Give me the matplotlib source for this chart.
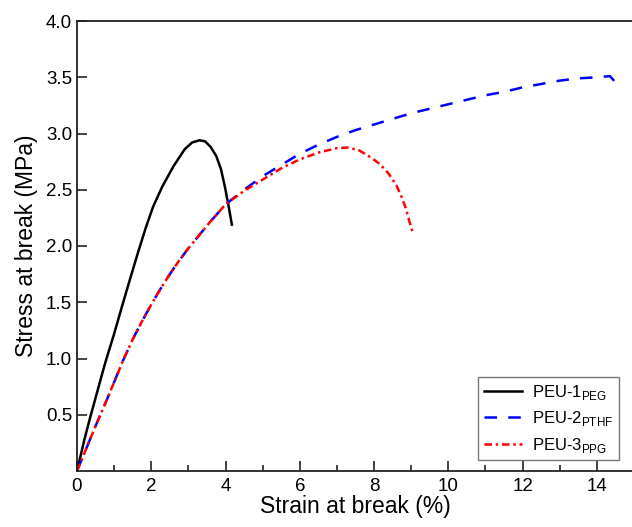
import numpy as np
import matplotlib
matplotlib.use("Agg")
import matplotlib.pyplot as plt
from matplotlib.ticker import MultipleLocator, FormatStrFormatter

plt.rcParams['font.family'] = ['Liberation Sans', 'DejaVu Sans']
plt.rcParams['mathtext.fontset'] = 'custom'
plt.rcParams['mathtext.rm'] = 'Liberation Sans'

# Data
peu1_x = [0, 0.2, 0.35, 0.55, 0.75, 1.0, 1.2, 1.45, 1.65, 1.85, 2.05, 2.3, 2.6, 2.9,
          3.1, 3.3, 3.45, 3.6, 3.75, 3.88, 3.98, 4.08, 4.17]
peu1_y = [0, 0.28, 0.47, 0.71, 0.95, 1.22, 1.45, 1.73, 1.95, 2.16, 2.35, 2.53, 2.71, 2.86,
          2.92, 2.94, 2.93, 2.88, 2.8, 2.68, 2.53, 2.36, 2.19]

peu2_x = [0, 0.25, 0.5, 0.8, 1.0, 1.25, 1.5, 1.75, 2.0, 2.25, 2.5, 2.75, 3.0, 3.3, 3.6,
          4.0, 4.5, 5.0, 5.5, 6.0, 6.5, 7.0, 7.5, 8.0, 8.5, 9.0, 9.5, 10.0, 10.5, 11.0,
          11.5, 12.0, 12.5, 13.0, 13.5, 14.0, 14.35, 14.6]
peu2_y = [0, 0.2, 0.4, 0.63, 0.79, 0.99, 1.17, 1.33, 1.48, 1.62, 1.75, 1.87, 1.98, 2.1, 2.22,
          2.37, 2.5, 2.62, 2.72, 2.82, 2.9, 2.97, 3.03, 3.08, 3.13, 3.18, 3.22, 3.26, 3.3, 3.34,
          3.37, 3.41, 3.44, 3.47, 3.49, 3.5, 3.51, 3.42]

peu3_x = [0, 0.25, 0.5, 0.8, 1.0, 1.25, 1.5, 1.75, 2.0, 2.25, 2.5, 2.75, 3.0, 3.3, 3.6,
          4.0, 4.5, 5.0, 5.5, 6.0, 6.5, 7.0, 7.3, 7.6, 7.9, 8.15, 8.4, 8.6, 8.75, 8.85,
          8.95, 9.05]
peu3_y = [0, 0.2, 0.4, 0.63, 0.79, 0.99, 1.17, 1.33, 1.48, 1.62, 1.75, 1.87, 1.98, 2.1, 2.22,
          2.37, 2.49, 2.59, 2.69, 2.77, 2.83, 2.87, 2.875, 2.85, 2.79, 2.73, 2.64, 2.54, 2.43,
          2.34, 2.22, 2.11]

labels = [r'PEU-1$_{\mathregular{PEG}}$', r'PEU-2$_{\mathregular{PTHF}}$', r'PEU-3$_{\mathregular{PPG}}$']

fig = plt.figure(figsize=(6.32, 5.27), dpi=100)
ax = fig.add_axes([77 / 632, 56 / 527, 557 / 632, 450 / 527])

ax.plot(peu1_x, peu1_y, color='black', lw=1.8, label=labels[0])
ax.plot(peu2_x, peu2_y, color='blue', lw=1.8, linestyle=(0, (5, 4.5)), label=labels[1])
ax.plot(peu3_x, peu3_y, color='red', lw=1.8, linestyle=(0, (3, 1.5, 1, 1.5)), label=labels[2])

ax.set_xlim(0, 15)
ax.set_ylim(0, 4.0)
ax.xaxis.set_major_locator(MultipleLocator(2))
ax.xaxis.set_minor_locator(MultipleLocator(1))
ax.set_yticks(np.arange(0.5, 4.01, 0.5))
ax.yaxis.set_major_formatter(FormatStrFormatter('%.1f'))
ax.tick_params(which='both', direction='in', labelsize=13.5, width=1.2, color='#222222')
ax.tick_params(which='major', length=7)
ax.tick_params(which='minor', length=4)
ax.tick_params(axis='x', pad=5)
for s in ax.spines.values():
    s.set_linewidth(1.3)
    s.set_color('#222222')

ax.set_xlabel('Strain at break (%)', fontsize=16.5, labelpad=0)
ax.set_ylabel('Stress at break (MPa)', fontsize=16.5, labelpad=6)

leg = ax.legend(loc='lower right', bbox_to_anchor=(0.988, 0.005), fontsize=12,
                fancybox=False, edgecolor='#555555', handlelength=2.3,
                borderpad=0.35, labelspacing=0.45, handletextpad=0.6)
leg.get_frame().set_linewidth(1.0)

fig.savefig('out.png', dpi=100)
